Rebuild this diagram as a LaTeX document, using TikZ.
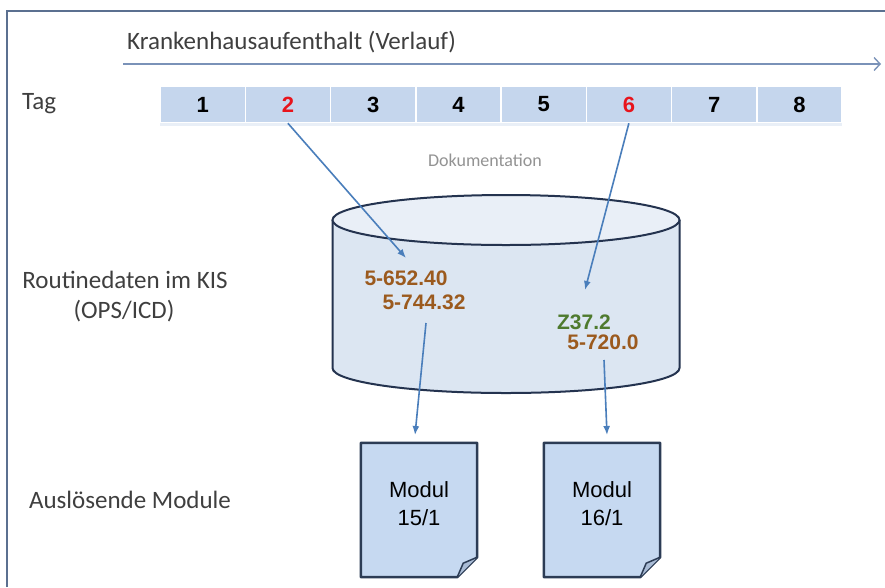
\documentclass[tikz,border=0pt]{standalone}
\usepackage{fontspec}
\setmainfont{Carlito}
\newfontfamily\arialf{Liberation Sans}
\usetikzlibrary{arrows.meta,calc}
\definecolor{frame}{HTML}{5B7090}
\definecolor{tline}{HTML}{7A92B8}
\definecolor{cellfill}{HTML}{C5D6ED}
\definecolor{cylfill}{HTML}{DCE6F2}
\definecolor{cyltop}{HTML}{E9EFF7}
\definecolor{cyldraw}{HTML}{24334F}
\definecolor{codebrown}{HTML}{9B5A1E}
\definecolor{codegreen}{HTML}{4E7A2E}
\definecolor{arr}{HTML}{4A7EBB}
\definecolor{docfill}{HTML}{C6D9F1}
\definecolor{docdraw}{HTML}{2C3C55}
\definecolor{flap}{HTML}{A9BCD6}
\definecolor{lbl}{HTML}{3F3F3F}
\definecolor{redd}{HTML}{E8141C}
\tikzset{
  lbltext/.style={text=lbl, font=\fontsize{25}{29}\selectfont, inner sep=0pt},
  cell/.style={fill=cellfill, draw=white, line width=1.5pt, minimum width=85.25pt, minimum height=36pt, inner sep=0pt, font=\arialf\bfseries\fontsize{22}{24}\selectfont},
  code/.style={font=\arialf\bfseries\fontsize{21}{24}\selectfont, inner sep=0pt},
  flow/.style={draw=arr, line width=1.6pt, -{Latex[length=9pt,width=7pt]}},
  docbox/.style={minimum width=116pt, minimum height=134pt, inner sep=0pt},
  doctext/.style={font=\arialf\fontsize{22}{28}\selectfont, align=center, inner sep=0pt}
}
\begin{document}
\begin{tikzpicture}[x=1pt,y=-1pt]
\useasboundingbox (0,0) rectangle (885,587);
\fill[white] (0,0) rectangle (885,587);
% frame
\draw[frame, line width=2.5pt] (7,587) -- (7,11) -- (885,11);
% title and timeline
\node[lbltext, anchor=west] (title) at (127,42) {Krankenhausaufenthalt (Verlauf)};
\coordinate (tl0) at (123,64);
\coordinate (tl1) at (881,64);
\draw[tline, line width=1.4pt, -{Straight Barb[length=6pt,width=13pt,line width=1.4pt]}] (tl0) -- (tl1);
% Tag row
\node[lbltext, anchor=west] (tag) at (22,104) {Tag};
\fill[cyltop] (160,86) rectangle (842,126);
\foreach \i/\t/\c in {1/1/black,2/2/redd,3/3/black,4/4/black,5/5/black,6/6/redd,7/7/black,8/8/black}{
  \node[cell, text=\c] (c\i) at ({160+85.25*(\i-0.5)},104.5) {\t};
}
\node[font=\fontsize{18}{20}\selectfont, text=gray!85, inner sep=0pt] (doku) at (485,160) {Dokumentation};
% cylinder
\fill[cylfill] (332.5,220) -- (332.5,368) .. controls (332.5,381.8) and (410.2,393) .. (506,393) .. controls (601.8,393) and (679.5,381.8) .. (679.5,368) -- (679.5,220) -- cycle;
\draw[cyldraw, line width=2pt] (332.5,220) -- (332.5,368) .. controls (332.5,381.8) and (410.2,393) .. (506,393) .. controls (601.8,393) and (679.5,381.8) .. (679.5,368) -- (679.5,220);
\draw[cyldraw, line width=2pt, fill=cyltop] (506,220) ellipse [x radius=173.5, y radius=25];
% codes
\node[code, text=codebrown] (k1) at (406,278) {5-652.40};
\node[code, text=codebrown] (k2) at (424,302) {5-744.32};
\node[code, text=codegreen] (k3) at (584,322) {Z37.2};
\node[code, text=codebrown] (k4) at (603,342) {5-720.0};
% left labels
\node[lbltext] (rout) at (125,280) {Routinedaten im KIS};
\node[lbltext] (ops) at (124,311) {(OPS/ICD)};
\node[lbltext] (ausl) at (130,500) {Auslösende Module};
% documents
\foreach \n/\x/\t in {m1/419/{15/1}, m2/602/{16/1}}{
  \node[docbox] (\n) at (\x,510) {};
  \draw[docdraw, line width=2.5pt, fill=docfill, line join=round]
    (\n.north west) -- (\n.north east) -- ($(\n.south east)+(0,-20)$) -- ($(\n.south east)+(-20,0)$) -- (\n.south west) -- cycle;
  \draw[docdraw, line width=1.5pt, fill=flap, line join=round]
    ($(\n.south east)+(0,-20)$) -- ($(\n.south east)+(-14,-14)$) -- ($(\n.south east)+(-20,0)$);
  \node[doctext] (\n t) at (\x,504) {Modul\\\t};
}
% connectors
\coordinate (e1) at (406,258);
\coordinate (e2) at (585,290);
\coordinate (s3) at (426,323);
\coordinate (e3) at (415,435);
\coordinate (s4) at (604,360);
\coordinate (e4) at (607,435);
\draw[flow] (c2.south) -- (e1);
\draw[flow] (c6.south) -- (e2);
\draw[flow] (s3) -- (e3);
\draw[flow] (s4) -- (e4);
\end{tikzpicture}
\end{document}
